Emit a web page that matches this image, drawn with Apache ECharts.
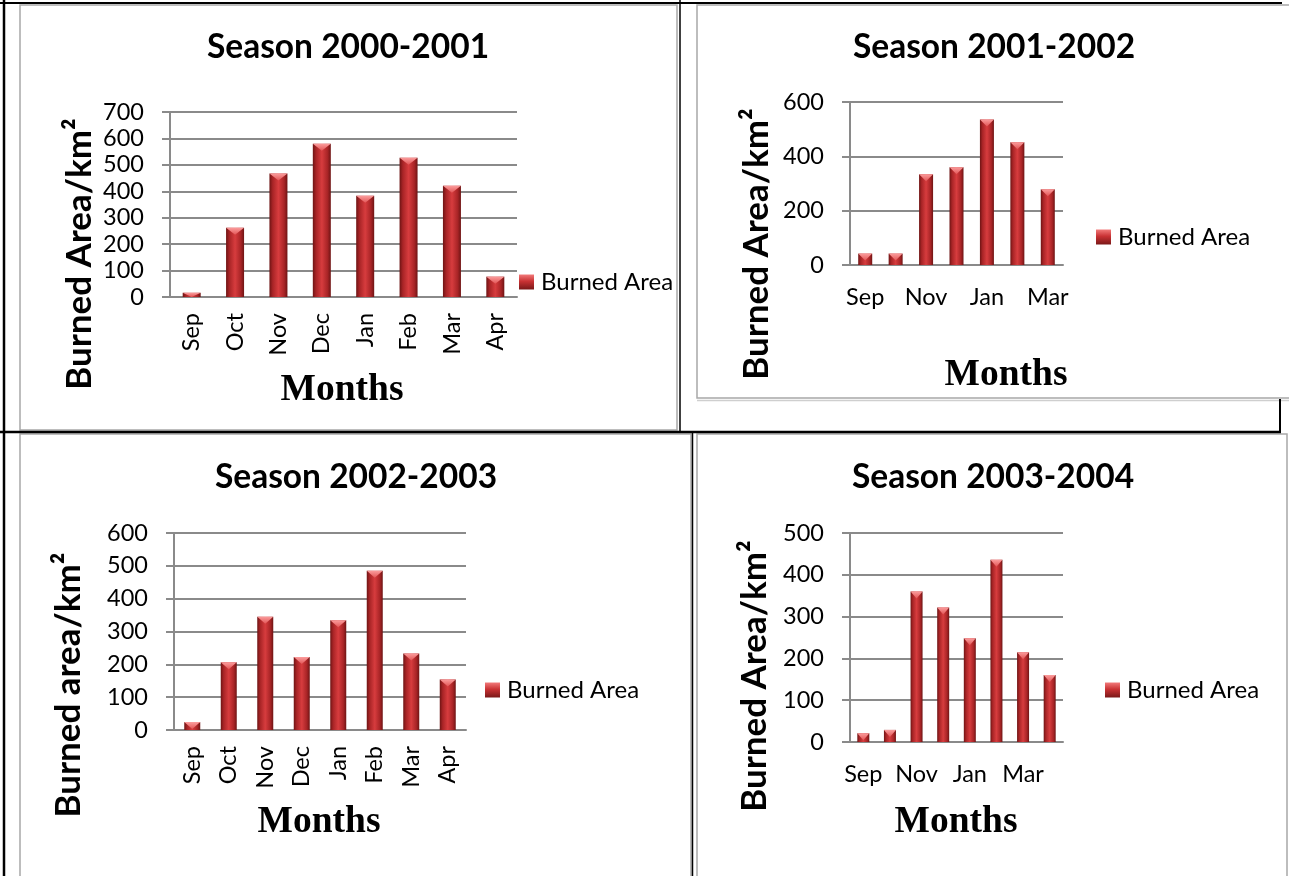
<!DOCTYPE html>
<html>
<head>
<meta charset="utf-8">
<script src="https://cdn.jsdelivr.net/npm/echarts@6/dist/echarts.min.js"></script>
<style>
  html, body { margin: 0; padding: 0; background: #fff; }
  #chart { width: 1289px; height: 876px; }
</style>
</head>
<body>
<div id="chart"></div>
<script>
// Monthly burned area (km²) for four fire seasons
const monthsEight = ['Sep', 'Oct', 'Nov', 'Dec', 'Jan', 'Feb', 'Mar', 'Apr'];
const monthsSeven = ['Sep', 'Oct', 'Nov', 'Dec', 'Jan', 'Feb', 'Mar'];

const area2000_2001 = [16, 262, 467, 580, 383, 527, 421, 77];
const area2001_2002 = [42, 42, 334, 360, 536, 452, 279];
const area2002_2003 = [24, 206, 345, 222, 334, 485, 233, 154];
const area2003_2004 = [21, 29, 360, 322, 248, 436, 215, 160];

const seasonTitles = ['Season 2000-2001', 'Season 2001-2002', 'Season 2002-2003', 'Season 2003-2004'];
const yAxisNames = ['Burned Area/km²', 'Burned Area/km²', 'Burned area/km²', 'Burned Area/km²'];
const xAxisName = 'Months';
const seriesName = 'Burned Area';

const yMax = [700, 600, 600, 500];
const yStep = [100, 200, 100, 100];

// Panel geometry (pixels)
const panels = [
  { cats: monthsEight, vals: area2000_2001, grid: { left: 170, top: 112, width: 347, height: 185 },
    barW: 18, labelRotate: 90, labelInterval: 0, labelMargin: 16,
    title: [348, 47], yName: [80, 254], xName: [342, 390], legend: [519, 270] },
  { cats: monthsSeven, vals: area2001_2002, grid: { left: 850, top: 102, width: 213, height: 163 },
    barW: 14, labelRotate: 0, labelInterval: 1, labelMargin: 20,
    title: [994, 47], yName: [757, 244], xName: [1006, 375], legend: [1096, 225] },
  { cats: monthsEight, vals: area2002_2003, grid: { left: 174, top: 533, width: 292, height: 197 },
    barW: 16, labelRotate: 90, labelInterval: 0, labelMargin: 16,
    title: [356, 477], yName: [69, 685], xName: [319, 822], legend: [485, 678] },
  { cats: monthsEight, vals: area2003_2004, grid: { left: 850, top: 533, width: 213, height: 209 },
    barW: 12, labelRotate: 0, labelInterval: 1, labelMargin: 20,
    title: [993, 477], yName: [755, 676], xName: [956, 822], legend: [1105, 678] }
];

const GRID_COLOR = '#8a8a8a';
const FRAME_COLOR = '#a8a8a8';
const SANS = 'Lato, "Open Sans", sans-serif';
const SERIF = '"Liberation Serif", "Times New Roman", serif';

const bodyGradient = () => new echarts.graphic.LinearGradient(0, 0, 1, 0, [
  { offset: 0, color: '#6e1414' },
  { offset: 0.18, color: '#a82426' },
  { offset: 0.5, color: '#d73c3e' },
  { offset: 0.82, color: '#a82426' },
  { offset: 1, color: '#6e1414' }
]);

// 3-D looking column: shaded body with a light bevelled cap
function renderColumn(barW) {
  return function (params, api) {
    const cat = api.value(0);
    const top = api.coord([cat, api.value(1)]);
    const base = api.coord([cat, 0]);
    const cx = top[0];
    const h = base[1] - top[1];
    const capH = Math.min(7, h);
    const left = cx - barW / 2;
    return {
      type: 'group',
      children: [
        {
          type: 'rect',
          shape: { x: left, y: top[1], width: barW, height: h },
          style: { fill: bodyGradient() }
        },
        {
          type: 'polygon',
          shape: { points: [[left, top[1]], [left + barW, top[1]], [cx, top[1] + capH]] },
          style: {
            fill: new echarts.graphic.LinearGradient(0, 0, 0, 1, [
              { offset: 0, color: '#fb9c9c' },
              { offset: 1, color: '#e25556' }
            ])
          }
        }
      ]
    };
  };
}

const grids = [], xAxes = [], yAxes = [], series = [], legends = [], graphics = [];

panels.forEach((p, i) => {
  grids.push(Object.assign({ containLabel: false }, p.grid));
  xAxes.push({
    type: 'category', gridIndex: i, data: p.cats,
    axisLine: { show: true, lineStyle: { color: GRID_COLOR, width: 2 } },
    axisTick: { show: false },
    axisLabel: {
      interval: p.labelInterval, rotate: p.labelRotate, margin: p.labelMargin,
      color: '#000', fontFamily: SANS, fontSize: 23.5
    }
  });
  yAxes.push({
    type: 'value', gridIndex: i, min: 0, max: yMax[i], interval: yStep[i],
    axisLine: { show: true, lineStyle: { color: GRID_COLOR, width: 2 } },
    axisTick: { show: true, length: 8, lineStyle: { color: GRID_COLOR, width: 2 } },
    splitLine: { show: true, lineStyle: { color: GRID_COLOR, width: 2 } },
    axisLabel: { margin: 26, color: '#000', fontFamily: SANS, fontSize: 23.5 }
  });
  series.push({
    type: 'custom', name: seriesName, xAxisIndex: i, yAxisIndex: i,
    renderItem: renderColumn(p.barW),
    encode: { x: 0, y: 1 },
    itemStyle: { color: '#b52a2c' },
    data: p.cats.map((m, k) => [m, p.vals[k]])
  });
  legends.push({
    left: p.legend[0], top: p.legend[1], padding: 0, itemGap: 0,
    itemWidth: 15, itemHeight: 15, selectedMode: false,
    textStyle: { fontFamily: SANS, fontSize: 24, color: '#000', padding: [0, 0, 0, 2] },
    data: [{
      name: seriesName, icon: 'rect',
      itemStyle: {
        color: new echarts.graphic.LinearGradient(0, 0, 0, 1, [
          { offset: 0, color: '#f27a7a' },
          { offset: 0.45, color: '#c93234' },
          { offset: 1, color: '#7a1818' }
        ])
      }
    }]
  });
  graphics.push({
    type: 'text', x: p.title[0], y: p.title[1],
    style: { text: seasonTitles[i], font: 'bold 33.5px ' + SANS, fill: '#000',
             textAlign: 'center', textVerticalAlign: 'middle' }
  });
  graphics.push({
    type: 'text', x: p.yName[0], y: p.yName[1], rotation: Math.PI / 2,
    style: { text: yAxisNames[i], font: 'bold 35px ' + SANS, fill: '#000',
             textAlign: 'center', textVerticalAlign: 'middle' }
  });
  graphics.push({
    type: 'text', x: p.xName[0], y: p.xName[1],
    style: { text: xAxisName, font: 'bold 37.5px ' + SERIF, fill: '#000',
             textAlign: 'center', textVerticalAlign: 'middle' }
  });
});

// Page frames and table rules
const frame = (x, y, w, h) => ({
  type: 'rect', shape: { x: x, y: y, width: w, height: h }, z: -1,
  style: { fill: 'none', stroke: FRAME_COLOR, lineWidth: 1.5 }
});
const rule = (x1, y1, x2, y2, w) => ({
  type: 'line', shape: { x1: x1, y1: y1, x2: x2, y2: y2 }, z: 5,
  style: { stroke: '#000', lineWidth: w || 2 }
});
graphics.push(
  frame(20, 5, 657, 425),
  frame(697, 5, 620, 393),
  { type: 'line', shape: { x1: 697, y1: 400.5, x2: 1289, y2: 400.5 }, style: { stroke: '#cfcfcf', lineWidth: 1.5 } },
  frame(20, 434, 671, 500),
  frame(697, 434, 590, 500),
  rule(4, 0, 4, 876, 2.5),
  rule(0, 3, 1282, 3, 2),
  rule(680, 0, 680, 432, 1.5),
  rule(1280, 399, 1280, 432, 2),
  rule(0, 432, 1281, 432, 2.5),
  rule(692.5, 432, 692.5, 876, 1.5)
);

const chart = echarts.init(document.getElementById('chart'), null, { renderer: 'canvas' });
chart.setOption({
  animation: false,
  backgroundColor: '#fff',
  grid: grids,
  xAxis: xAxes,
  yAxis: yAxes,
  legend: legends,
  series: series,
  graphic: graphics
});
</script>
</body>
</html>
